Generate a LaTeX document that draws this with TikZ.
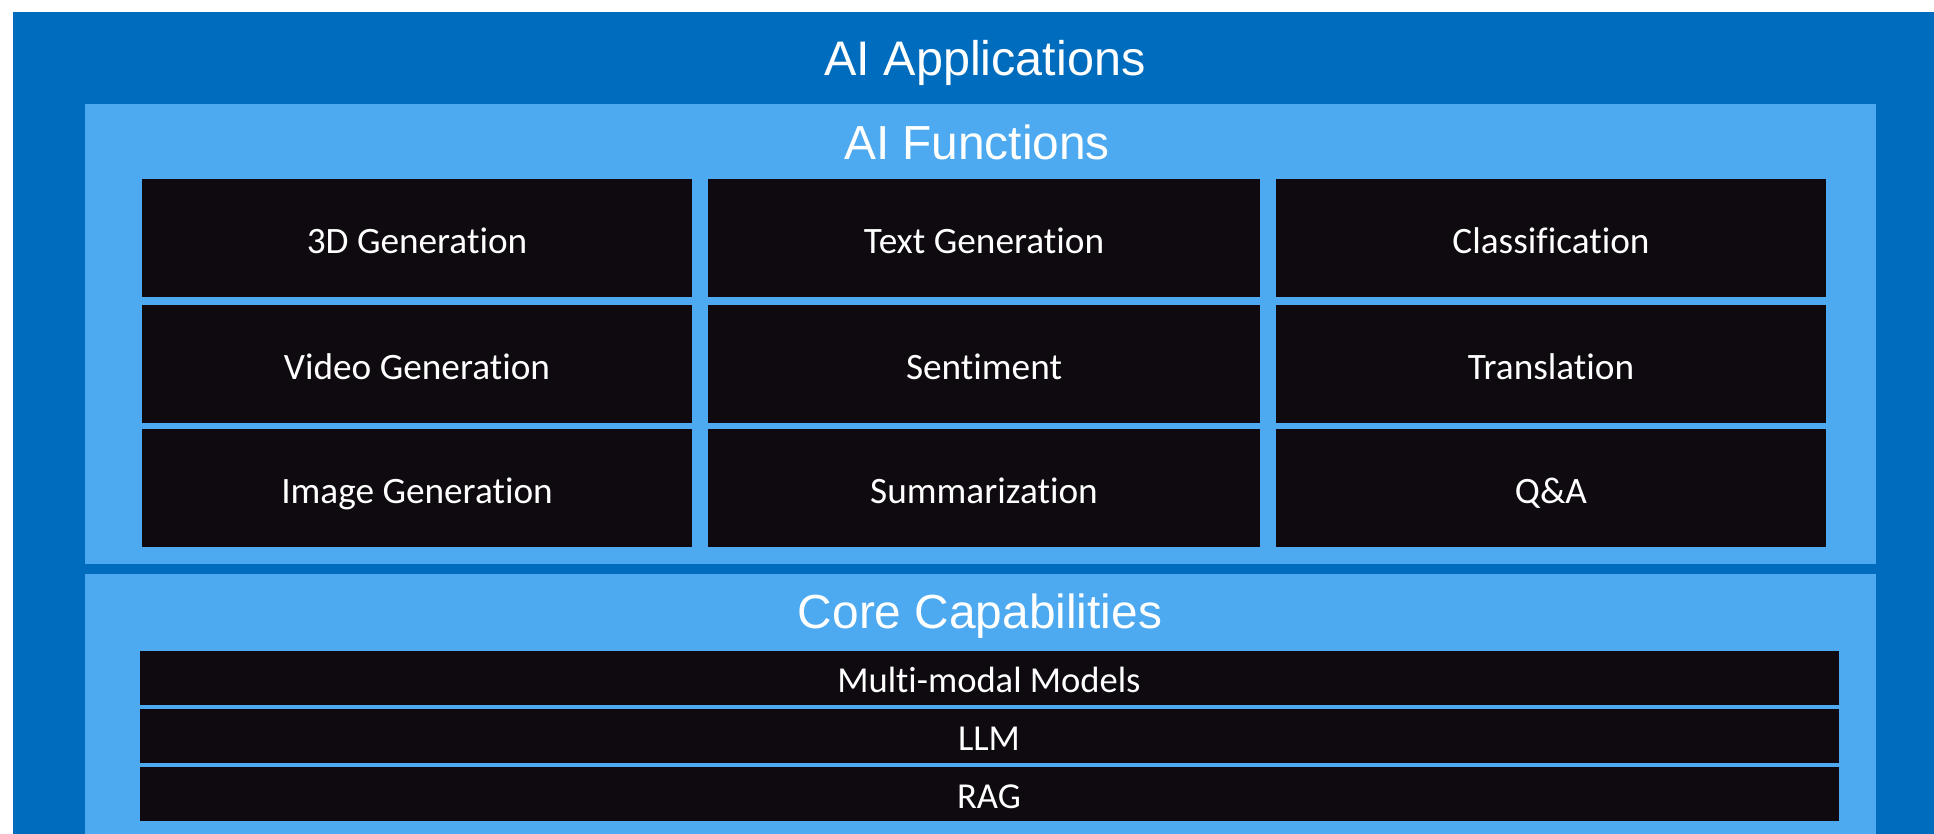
\documentclass[tikz,border=0pt]{standalone}
\usepackage{fontspec}
\setmainfont{Liberation Sans}
\newfontfamily\cellfont[Ligatures=NoCommon]{Carlito}
\definecolor{appblue}{HTML}{006CBE}
\definecolor{funcblue}{HTML}{4DAAF0}
\definecolor{cellblack}{HTML}{0E0A10}
\begin{document}
\begin{tikzpicture}[x=0.01cm, y=-0.01cm,
		panel/.style={fill=#1, draw=none, inner sep=0pt, anchor=north west},
		heading/.style={text=white, anchor=base, inner sep=0pt, font=\fontsize{#1}{#1}\selectfont},
		func/.style={fill=cellblack, text=white, inner sep=0pt, minimum width=5.5cm, minimum height=1.18cm,
			text height=0.36cm, text depth=0.06cm, font=\cellfont\fontsize{10.6}{12}\selectfont},
		core/.style={fill=cellblack, text=white, inner sep=0pt, minimum width=16.98cm, minimum height=0.54cm,
			text height=0.34cm, text depth=0.06cm, font=\cellfont\fontsize{10.4}{12}\selectfont}]
	\useasboundingbox (0, 0) rectangle (1934, 834);

	% layers
	\node[panel=appblue, minimum width=19.22cm, minimum height=8.23cm] (apps) at (12, 11) {};
	\node[panel=funcblue, minimum width=17.9cm, minimum height=4.6cm] (funcs) at (84, 103) {};
	\node[panel=funcblue, minimum width=17.9cm, minimum height=2.61cm] (caps) at (84, 573) {};

	\node[heading=13.8] (appstitle) at (985, 76) {AI Applications};
	\node[heading=13.6] (funcstitle) at (977, 160) {AI Functions};
	\node[heading=13.6] (capstitle) at (980, 628) {Core Capabilities};

	% functions
	\node[func] (gen3d) at (417, 238) {3D Generation};
	\node[func, minimum width=5.52cm] (textgen) at (984, 238) {Text Generation};
	\node[func] (classif) at (1551, 238) {Classification};
	\node[func] (videogen) at (417, 364) {Video Generation};
	\node[func, minimum width=5.52cm] (sentiment) at (984, 364) {Sentiment};
	\node[func] (transl) at (1551, 364) {Translation};
	\node[func] (imagegen) at (417, 488) {Image Generation};
	\node[func, minimum width=5.52cm] (summary) at (984, 488) {Summarization};
	\node[func] (qanda) at (1551, 488) {Q\&A};

	% core capabilities
	\node[core] (multimodal) at (989, 678) {Multi-modal Models};
	\node[core] (llm) at (989, 736) {LLM};
	\node[core] (rag) at (989, 794) {RAG};

\end{tikzpicture}
\end{document}
